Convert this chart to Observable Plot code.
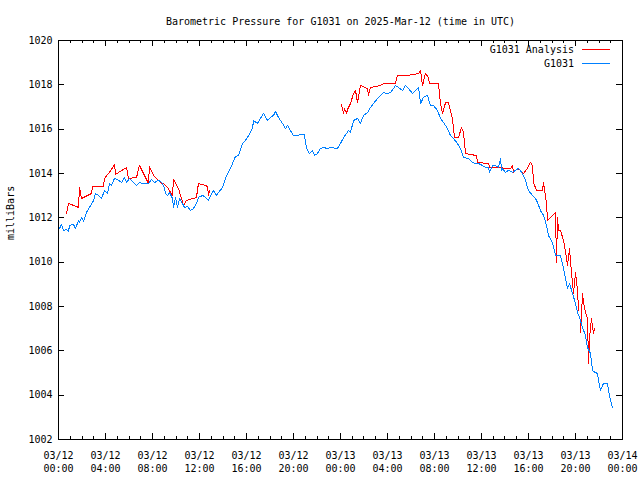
<!DOCTYPE html>
<html>
<head>
<meta charset="utf-8">
<script src="https://cdn.jsdelivr.net/npm/d3@7"></script>
<script src="https://cdn.jsdelivr.net/npm/@observablehq/plot@0.6"></script>
<style>
  html, body { margin: 0; padding: 0; background: #fff; }
  svg { shape-rendering: crispEdges; }
</style>
</head>
<body>
<div id="chart"></div>
<script>
// ---- Data ----
const chartTitle = "Barometric Pressure for G1031 on 2025-Mar-12 (time in UTC)";
const yAxisLabel = "milliBars";
const seriesNames = ["G1031 Analysis", "G1031"];
const seriesColors = ["#ff0000", "#0080ff"];

const startUTC = Date.UTC(2025, 2, 12, 0, 0); // 03/12 00:00 UTC
const yTicks = [1002, 1004, 1006, 1008, 1010, 1012, 1014, 1016, 1018, 1020];
const xTickHours = [0, 4, 8, 12, 16, 20, 24, 28, 32, 36, 40, 44, 48];
const xTickDates = ["03/12","03/12","03/12","03/12","03/12","03/12","03/13","03/13","03/13","03/13","03/13","03/13","03/14"];
const xTickTimes = ["00:00","04:00","08:00","12:00","16:00","20:00","00:00","04:00","08:00","12:00","16:00","20:00","00:00"];

// G1031 (station) — hours since 03/12 00:00 UTC, pressure in mbar
const stationHours = [0.09,0.26,0.43,0.68,0.85,0.94,1.28,1.45,1.70,1.79,1.96,2.13,2.38,2.64,2.98,3.15,3.40,3.66,3.91,4.17,4.34,4.51,4.77,5.11,5.36,5.62,5.79,6.04,6.38,6.64,6.89,7.23,7.66,7.91,8.17,8.51,8.77,8.94,9.11,9.28,9.45,9.70,9.79,9.96,10.13,10.30,10.55,10.72,10.98,11.23,11.49,11.74,11.91,12.26,12.51,12.77,12.94,13.19,13.45,13.62,13.96,14.21,14.47,14.81,15.06,15.32,15.66,15.91,16.17,16.51,16.60,16.94,17.19,17.45,17.79,18.04,18.30,18.47,18.72,19.06,19.32,19.49,19.74,20.00,20.94,21.02,21.19,21.36,21.62,21.79,22.04,22.30,22.55,22.89,23.15,23.74,24.00,24.26,24.51,24.68,24.85,25.11,25.45,25.70,25.96,26.30,26.55,26.81,27.15,27.40,27.66,28.00,28.26,28.51,28.68,28.94,29.28,29.53,29.79,30.13,30.38,30.64,30.81,31.06,31.40,31.66,31.91,32.26,32.51,32.77,33.11,33.36,33.62,33.96,34.21,34.47,34.89,35.23,35.49,35.74,36.09,36.34,36.60,36.68,36.94,37.19,37.45,37.62,37.70,37.79,38.04,38.30,38.64,38.89,39.15,39.49,39.74,40.00,40.34,40.60,40.77,41.02,41.28,41.53,41.70,42.04,42.30,42.72,42.98,43.15,43.32,43.49,43.74,44.00,44.17,44.34,44.60,44.85,45.02,45.28,45.45,45.70,45.87,45.96,46.13,46.38,46.72,46.81,46.98,47.15];
const stationPressure = [1011.52,1011.70,1011.43,1011.47,1011.38,1011.66,1011.70,1011.52,1011.88,1011.79,1012.02,1011.84,1012.24,1012.47,1012.78,1013.10,1013.01,1012.87,1013.23,1013.10,1013.55,1013.46,1013.78,1013.69,1013.59,1013.82,1013.59,1013.78,1013.59,1013.46,1013.59,1013.55,1013.55,1013.73,1013.59,1013.69,1013.59,1013.46,1013.10,1013.01,1013.14,1012.87,1012.47,1012.92,1012.47,1012.87,1012.65,1012.47,1012.51,1012.33,1012.42,1012.65,1012.92,1013.01,1012.92,1012.78,1013.01,1013.23,1013.01,1013.14,1013.37,1013.78,1014.05,1014.45,1014.77,1014.81,1015.35,1015.49,1015.71,1016.03,1016.39,1016.26,1016.48,1016.71,1016.39,1016.53,1016.62,1016.80,1016.53,1016.26,1016.03,1016.17,1015.94,1015.71,1015.76,1015.35,1015.04,1014.90,1015.04,1014.81,1014.90,1015.13,1015.17,1015.13,1015.17,1015.13,1015.35,1015.62,1015.80,1015.94,1015.85,1016.39,1016.48,1016.26,1016.62,1016.75,1016.98,1017.16,1017.38,1017.52,1017.65,1017.61,1017.65,1017.83,1017.97,1017.88,1017.74,1017.97,1017.83,1017.61,1017.74,1017.88,1017.16,1017.43,1017.52,1017.07,1017.07,1016.84,1016.48,1016.30,1016.03,1015.71,1015.58,1015.35,1015.13,1014.72,1014.68,1014.50,1014.45,1014.45,1014.36,1014.27,1014.27,1014.05,1014.36,1014.36,1014.27,1014.68,1014.14,1014.23,1014.05,1014.14,1014.05,1014.14,1014.23,1014.00,1013.69,1013.23,1013.01,1012.87,1012.69,1012.33,1012.11,1011.66,1011.20,1010.89,1010.30,1010.30,1009.72,1009.26,1008.81,1009.04,1008.59,1008.14,1007.73,1007.50,1007.05,1006.69,1006.15,1005.88,1005.11,1005.02,1004.98,1004.66,1004.21,1004.53,1004.53,1004.21,1003.76,1003.44];

// G1031 Analysis — two segments (gap between them)
const analysisSegment = [1,1,1,1,1,1,1,1,1,1,1,1,1,1,1,1,1,1,1,1,1,1,1,1,1,1,1,1,1,1,1,1,1,1,1,
  2,2,2,2,2,2,2,2,2,2,2,2,2,2,2,2,2,2,2,2,2,2,2,2,2,2,2,2,2,2,2,2,2,2,2,2,2,2,2,2,2,2,2,2,2,2,2,2,2,2,2,2,2,2,2,2,2,2,2,2,2,2,2,2,2,2,2,2,2,2,2];
const analysisHours = [0.68,0.85,1.28,1.70,1.79,1.96,2.81,2.89,3.83,3.91,4.34,4.77,4.85,5.79,5.96,6.64,6.89,7.66,7.74,8.09,8.51,8.77,8.94,9.28,9.70,9.79,10.21,10.64,10.89,11.74,11.91,12.51,12.68,12.77,12.85,
  24.09,24.26,24.34,24.51,24.60,24.85,25.11,25.28,25.45,25.70,26.30,26.38,26.55,27.40,27.66,28.68,28.85,29.70,30.64,30.81,30.98,31.23,31.49,31.57,32.34,32.51,32.68,32.94,33.19,33.53,33.70,34.04,34.30,34.47,34.64,35.57,35.66,36.60,36.68,37.79,37.87,38.47,38.64,38.72,39.06,39.32,39.57,39.91,40.17,40.34,40.43,40.68,41.19,41.28,41.53,41.62,41.87,42.30,42.38,42.47,42.55,42.72,42.98,43.23,43.32,43.49,43.66,43.83,44.00,44.17,44.26,44.43,44.60,44.68,44.85,45.02,45.11,45.19,45.36,45.53,45.62];
const analysisPressure = [1012.20,1012.65,1012.56,1012.47,1013.37,1012.87,1013.10,1013.41,1013.41,1013.78,1014.05,1014.41,1013.96,1014.27,1013.78,1013.82,1014.36,1013.55,1014.32,1013.91,1013.69,1013.55,1013.55,1013.37,1013.01,1013.73,1013.32,1012.56,1012.78,1012.92,1013.55,1013.46,1013.41,1013.01,1013.23,
  1017.11,1016.71,1016.93,1016.71,1016.89,1017.16,1017.61,1017.74,1017.20,1017.97,1017.83,1017.52,1017.88,1017.97,1018.06,1018.06,1018.42,1018.42,1018.51,1018.65,1017.97,1018.51,1018.33,1018.06,1018.06,1017.16,1016.71,1017.20,1017.20,1016.48,1015.62,1015.62,1016.08,1015.85,1014.90,1014.81,1014.50,1014.45,1014.27,1014.27,1014.23,1014.23,1014.36,1014.05,1014.23,1014.14,1014.00,1014.23,1014.50,1014.36,1013.59,1013.23,1013.23,1013.59,1012.65,1011.88,1012.02,1012.24,1009.99,1012.02,1011.43,1011.43,1010.98,1010.21,1009.85,1010.62,1009.53,1008.59,1009.53,1008.72,1007.82,1006.83,1008.59,1008.18,1007.73,1007.46,1005.43,1006.56,1007.46,1006.78,1007.01];

// ---- Build tables ----
const toDate = h => new Date(startUTC + h * 3600e3);
const station = stationHours.map((h, i) => ({time: toDate(h), p: stationPressure[i]}));
const analysis = analysisHours.map((h, i) => ({time: toDate(h), p: analysisPressure[i], seg: analysisSegment[i]}));
const xTicks = xTickHours.map(toDate);
const minorTicks = d3.range(0, 49).map(toDate);

// ---- Decorations (ticks inside the frame, legend) ----
function insideTicks(index, scales, values, dims) {
  const {x, y} = scales;
  const L = dims.marginLeft, R = dims.width - dims.marginRight;
  const T = dims.marginTop, B = dims.height - dims.marginBottom;
  const major = 6, minor = 3;
  let d = "";
  for (const v of yTicks) {
    const py = Math.round(y(v)) + 0.5;
    d += `M${L},${py}h${major}M${R},${py}h${-major}`;
  }
  for (const t of minorTicks) {
    const px = Math.round(x(t)) + 0.5;
    const isMajor = xTicks.some(m => +m === +t);
    const len = isMajor ? major : minor;
    d += `M${px},${B}v${-len}M${px},${T}v${len}`;
  }
  const g = d3.create("svg:g");
  g.append("path").attr("d", d).attr("stroke", "black").attr("fill", "none");
  return g.node();
}

function legend(index, scales, values, dims) {
  const R = dims.width - dims.marginRight;
  const T = dims.marginTop;
  const g = d3.create("svg:g");
  seriesNames.forEach((name, i) => {
    const cy = T + 9 + i * 14;
    g.append("text")
      .attr("x", R - 48).attr("y", cy).attr("dy", "0.35em")
      .attr("text-anchor", "end")
      .attr("font-family", "DejaVu Sans Mono").attr("font-size", 10)
      .text(name);
    g.append("path")
      .attr("d", `M${R - 40},${cy + 0.5}h28`)
      .attr("stroke", seriesColors[i]).attr("fill", "none");
  });
  return g.node();
}

const chart = Plot.plot({
  width: 640,
  height: 480,
  marginTop: 40,
  marginBottom: 41,
  marginLeft: 58,
  marginRight: 18,
  style: {fontFamily: "DejaVu Sans Mono", fontSize: "10px", background: "white", color: "black"},
  x: {type: "utc", domain: [toDate(0), toDate(48)]},
  y: {domain: [1002, 1020]},
  marks: [
    Plot.frame({stroke: "black"}),
    Plot.axisY({ticks: yTicks, tickSize: 0, tickPadding: 6, tickFormat: d => String(d), label: null}),
    Plot.axisX({ticks: xTicks, tickSize: 0, tickPadding: 12, tickFormat: (d, i) => xTickDates[i], label: null}),
    Plot.axisX({ticks: xTicks, tickSize: 0, tickPadding: 25, tickFormat: (d, i) => xTickTimes[i], label: null}),
    insideTicks,
    Plot.line(analysis, {x: "time", y: "p", z: "seg", stroke: seriesColors[0], strokeWidth: 1}),
    Plot.line(station, {x: "time", y: "p", stroke: seriesColors[1], strokeWidth: 1}),
    Plot.text([chartTitle], {frameAnchor: "top", dy: -23}),
    Plot.text([yAxisLabel], {frameAnchor: "left", dx: -48, rotate: -90}),
    legend
  ]
});
document.getElementById("chart").appendChild(chart);
</script>
</body>
</html>
